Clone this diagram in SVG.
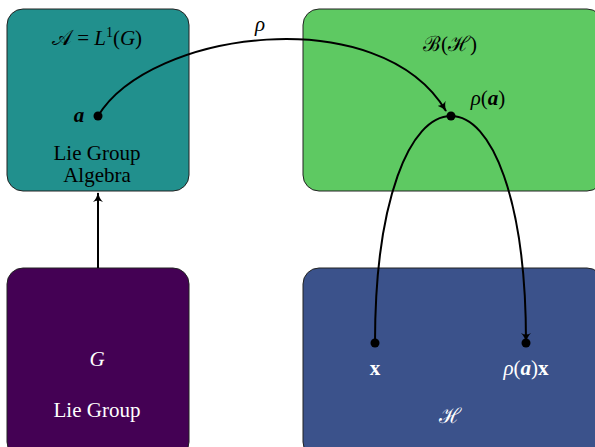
<svg xmlns="http://www.w3.org/2000/svg" width="595" height="447" viewBox="0 0 595 447">
<style>
.box{stroke:#222;stroke-width:1}
.t{font-family:"Liberation Serif","DejaVu Serif",serif;font-size:21px;text-anchor:middle}
.m{font-family:"Liberation Serif","DejaVu Serif",serif;font-size:21px;text-anchor:middle;font-style:italic}
.c{fill:none;stroke:#000;stroke-width:2}
</style>
<defs>
<marker id="ah" viewBox="0 0 10 10" refX="9" refY="5" markerWidth="10" markerHeight="10" markerUnits="userSpaceOnUse" orient="auto">
<path d="M0,0 Q4,4 10,5 Q4,6 0,10 Q3,5 0,0 Z" fill="#000"/>
</marker>
</defs>
<g id="nodeA">
<rect class="box" x="7" y="9" width="182" height="182" rx="16" fill="#21908d"/>
<text class="t" x="97" y="45" font-size="22">𝒜 = <tspan font-style="italic">L</tspan><tspan font-size="14" dy="-8">1</tspan><tspan dy="8">(</tspan><tspan font-style="italic">G</tspan>)</text>
<text class="t" x="79" y="122" font-weight="bold" font-style="italic">a</text>
<text class="t" x="97" y="160">Lie Group</text>
<text class="t" x="97" y="182">Algebra</text>
</g>
<g id="nodeB">
<rect class="box" x="303" y="9" width="300" height="182" rx="16" fill="#5ec962"/>
<text class="t" x="450" y="51" font-size="22">ℬ(ℋ)</text>
<text class="t" x="488" y="105" font-size="22"><tspan font-style="italic">ρ</tspan>(<tspan font-weight="bold" font-style="italic">a</tspan>)</text>
</g>
<g id="nodeG">
<rect class="box" x="7" y="268" width="182" height="190" rx="16" fill="#440154"/>
<text class="m" x="97" y="366" fill="#fff">G</text>
<text class="t" x="97" y="417" fill="#fff">Lie Group</text>
</g>
<g id="nodeH">
<rect class="box" x="303" y="268" width="300" height="190" rx="16" fill="#3b528b"/>
<text class="t" x="375" y="375" fill="#fff" font-weight="bold">x</text>
<text class="t" x="526" y="375" fill="#fff" font-size="22"><tspan font-style="italic">ρ</tspan>(<tspan font-weight="bold" font-style="italic">a</tspan>)<tspan font-weight="bold">x</tspan></text>
<text class="t" x="450" y="423" fill="#fff">ℋ</text>
</g>
<g id="connectors">
<path class="c" d="M98,268 L98,193" marker-end="url(#ah)"/>
<path class="c" d="M98,116 C150,30 380,0 446,111" marker-end="url(#ah)"/>
<path class="c" d="M375,343 C375,200 410,116 451,116 C492,116 526,200 526,342" marker-end="url(#ah)"/>
<circle cx="98" cy="116" r="4.5"/>
<circle cx="451" cy="116" r="4.5"/>
<circle cx="375" cy="343" r="4.5"/>
<circle cx="526" cy="343" r="4.5"/>
<text class="m" x="260" y="31">ρ</text>
</g>
</svg>
